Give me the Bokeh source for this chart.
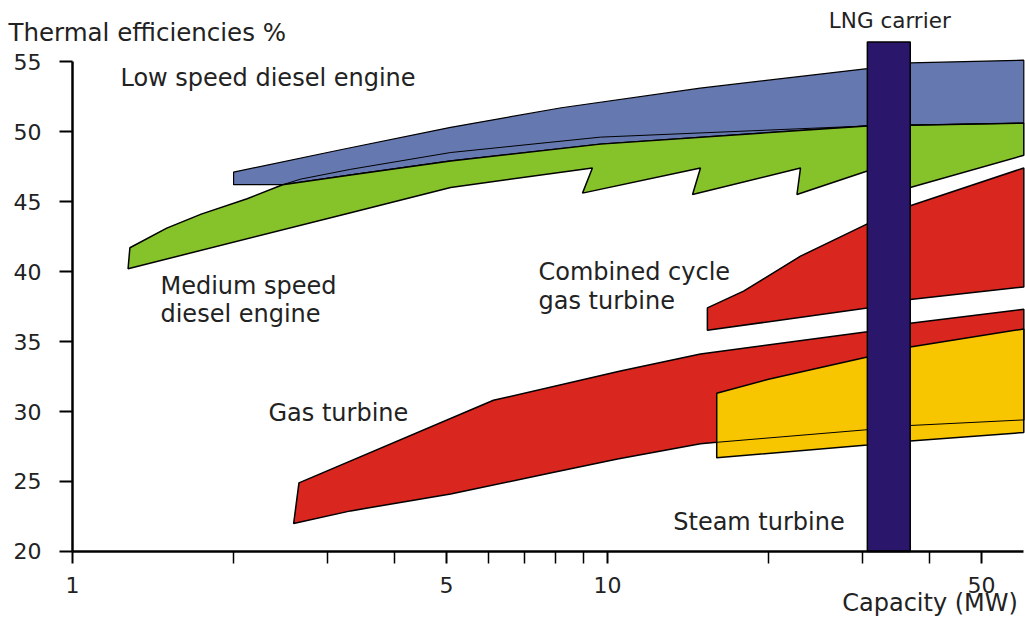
from bokeh.plotting import figure
from bokeh.models import Range1d, FixedTicker, NumeralTickFormatter, Label
from bokeh.embed import file_html
from bokeh.resources import INLINE

# ---- data (capacity MW, thermal efficiency %) ----
low_upper_x = [2.0, 3.17, 5.09, 8.2, 14.9, 30.6, 36.8, 60]
low_upper_y = [47.1, 48.7, 50.3, 51.7, 53.1, 54.5, 54.9, 55.1]
low_lower_x = [2.0, 2.47, 3.31, 5.09, 9.7, 30.6, 60]
low_lower_y = [46.2, 46.2, 46.9, 47.9, 49.1, 50.4, 50.6]
low_inner_x = [2.47, 2.67, 3.31, 5.09, 9.7, 30.6, 60]
low_inner_y = [46.2, 46.6, 47.3, 48.5, 49.6, 50.4, 50.6]

med_upper_x = [1.28, 1.5, 1.74, 2.12, 2.47, 3.31, 5.09, 9.7, 30.6, 60]
med_upper_y = [41.7, 43.1, 44.1, 45.2, 46.2, 46.9, 47.9, 49.1, 50.4, 50.6]
med_lower_x = [1.27, 3.31, 5.09, 9.37, 8.98, 14.92, 14.42, 22.95, 22.6, 31.8, 31.3, 36.8, 60]
med_lower_y = [40.2, 44.2, 46.0, 47.4, 45.6, 47.4, 45.5, 47.4, 45.5, 47.4, 45.3, 46.0, 48.3]

gt_upper_x = [2.65, 6.12, 10.57, 14.92, 30.6, 36.8, 60]
gt_upper_y = [24.9, 30.8, 32.9, 34.1, 35.7, 36.3, 37.3]
gt_lower_x = [2.59, 3.31, 5.09, 7.82, 10.44, 14.92, 16.0, 30.6, 36.8, 60]
gt_lower_y = [22.0, 22.9, 24.1, 25.6, 26.6, 27.7, 27.8, 28.7, 29.0, 29.4]

st_upper_x = [16.0, 20.0, 30.6, 36.8, 60]
st_upper_y = [31.3, 32.3, 33.9, 34.6, 35.9]
st_lower_x = [16.0, 30.6, 36.8, 60]
st_lower_y = [26.7, 27.6, 27.9, 28.5]

cc_upper_x = [15.37, 17.96, 22.95, 30.6, 36.8, 60]
cc_upper_y = [37.4, 38.6, 41.1, 43.4, 44.7, 47.4]
cc_lower_x = [15.37, 30.6, 36.8, 60]
cc_lower_y = [35.8, 37.4, 38.0, 38.9]

lng_left, lng_right, lng_top = 30.6, 36.8, 56.4

x_ticks = [1, 5, 10, 50]
x_minor = [2, 3, 4, 6, 7, 8, 9, 20, 30, 40]
y_ticks = [20, 25, 30, 35, 40, 45, 50, 55]

FONT = "DejaVu Sans"
TXT = "#222222"
BLUE, GREEN, RED, YELLOW, NAVY = "#6578b0", "#86c22a", "#d9261e", "#f7c600", "#2a176c"

def band(ux, uy, lx, ly):
    return list(ux) + list(lx)[::-1], list(uy) + list(ly)[::-1]

p = figure(width=1025, height=620, x_axis_type="log",
           x_range=Range1d(0.7334, 60.44), y_range=Range1d(15.07, 59.36),
           output_backend="svg", toolbar_location=None,
           min_border_left=0, min_border_right=0, min_border_top=0, min_border_bottom=0)
p.outline_line_color = None
p.xgrid.visible = False
p.ygrid.visible = False
p.background_fill_color = "white"
p.border_fill_color = "white"

# low speed diesel
bx, by = band(low_upper_x, low_upper_y, low_lower_x, low_lower_y)
p.patch(bx, by, fill_color=BLUE, line_color="black", line_width=1.2)
# medium speed diesel
gx, gy = band(med_upper_x, med_upper_y, med_lower_x, med_lower_y)
p.patch(gx, gy, fill_color=GREEN, line_color="black", line_width=1.5)
p.line(low_inner_x, low_inner_y, line_color="black", line_width=1)
# gas turbine
tx, ty = band(gt_upper_x, gt_upper_y, gt_lower_x, gt_lower_y)
p.patch(tx, ty, fill_color=RED, line_color="black", line_width=1.5)
# steam turbine
sx, sy = band(st_upper_x, st_upper_y, st_lower_x, st_lower_y)
p.patch(sx, sy, fill_color=YELLOW, line_color="black", line_width=1.5)
p.line(gt_lower_x[6:], gt_lower_y[6:], line_color="black", line_width=1)
# combined cycle
cx, cy = band(cc_upper_x, cc_upper_y, cc_lower_x, cc_lower_y)
p.patch(cx, cy, fill_color=RED, line_color="black", line_width=1.5)
# LNG carrier
p.quad(left=[lng_left], right=[lng_right], bottom=[20], top=[lng_top],
       fill_color=NAVY, line_color="black", line_width=1.5)

# axes
xa = p.xaxis[0]
xa.ticker = FixedTicker(ticks=x_ticks, minor_ticks=x_minor)
xa.formatter = NumeralTickFormatter(format="0")
xa.fixed_location = 20
xa.bounds = (1, 60)
ya = p.yaxis[0]
ya.ticker = FixedTicker(ticks=y_ticks, minor_ticks=[])
ya.fixed_location = 1
ya.bounds = (20, 55)
for ax in (xa, ya):
    ax.axis_line_width = 2.5
    ax.axis_line_color = "black"
    ax.major_tick_line_width = 2
    ax.major_tick_line_color = "black"
    ax.major_tick_in = 0
    ax.minor_tick_in = 0
    ax.minor_tick_line_width = 1.5
    ax.minor_tick_line_color = "black"
    ax.major_label_text_font = FONT
    ax.major_label_text_font_size = "22px"
    ax.major_label_text_color = TXT
xa.major_tick_out = 12
xa.minor_tick_out = 12
xa.major_label_standoff = 14
ya.major_tick_out = 13
ya.major_label_standoff = 18

def lab(x, y, text, size="24px", align="left", baseline="middle"):
    p.add_layout(Label(x=x, y=y, text=text, text_font=FONT, text_font_size=size,
                       text_color=TXT, text_align=align, text_baseline=baseline))

lab(0.759, 57.07, "Thermal efficiencies %", size="24.5px")
lab(58.5, 16.35, "Capacity (MW)", size="24px", align="right")
lab(1.229, 53.79, "Low speed diesel engine")
lab(1.46, 39.0, "Medium speed")
lab(1.46, 36.93, "diesel engine")
lab(7.43, 39.93, "Combined cycle")
lab(7.43, 37.86, "gas turbine")
lab(2.324, 29.86, "Gas turbine")
lab(13.27, 22.14, "Steam turbine")
lab(33.7, 57.93, "LNG carrier", size="21.5px", align="center")

open("out.html", "w").write(file_html(p, INLINE))
